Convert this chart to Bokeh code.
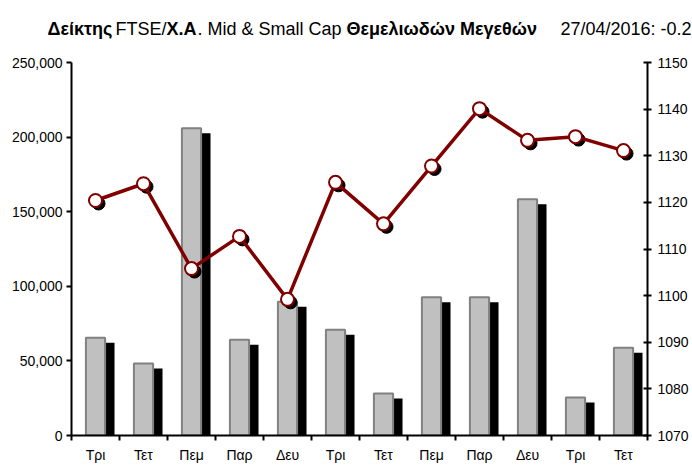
from bokeh.plotting import figure
from bokeh.layouts import column
from bokeh.models import (Range1d, LinearAxis, FixedTicker, NumeralTickFormatter,
                          ColumnDataSource)
from bokeh.core.properties import value
from bokeh.embed import file_html
from bokeh.resources import INLINE

days = ["Τρι", "Τετ", "Πεμ", "Παρ", "Δευ", "Τρι", "Τετ", "Πεμ", "Παρ", "Δευ", "Τρι", "Τετ"]
volume = [65500, 48300, 206000, 64100, 89600, 70800, 28100, 92700, 92700, 158400, 25500, 58800]
index_close = [1120.4, 1124.0, 1105.8, 1112.7, 1099.2, 1124.3, 1115.4, 1127.8, 1140.1, 1133.3, 1134.1, 1131.1]
left_ticks = [0, 50000, 100000, 150000, 200000, 250000]
right_ticks = [1070, 1080, 1090, 1100, 1110, 1120, 1130, 1140, 1150]

title_parts = ["Δείκτης", "FTSE/", "Χ.Α", ". Mid & Small Cap", "Θεμελιωδών Μεγεθών",
               "27/04/2016: -0.28%"]
title_bold = [True, False, True, False, True, False]
title_x = [47, 115, 166, 197, 346, 560]

n = len(days)
centers = [i + 0.5 for i in range(n)]
bounds = list(range(n + 1))

FONT = "'Liberation Sans'"
W = 692
TITLE_H = 40

# ---- title strip ----
t = figure(width=W, height=TITLE_H, output_backend="svg", toolbar_location=None,
           x_range=Range1d(0, W), y_range=Range1d(TITLE_H, 0),
           x_axis_type=None, y_axis_type=None, min_border=0, frame_align=False)
t.outline_line_color = None
t.xgrid.visible = False
t.ygrid.visible = False
for bold in (True, False):
    idx = [i for i, b in enumerate(title_bold) if b == bold]
    ts = ColumnDataSource(dict(x=[title_x[i] for i in idx], y=[28] * len(idx),
                               text=[title_parts[i] for i in idx]))
    t.text(x="x", y="y", text="text", source=ts, text_font=value(FONT),
           text_font_style="bold" if bold else "normal", text_font_size="18px",
           text_color="black", text_baseline="alphabetic", text_align="left")

# ---- main chart ----
p = figure(width=W, height=465 - TITLE_H, output_backend="svg", toolbar_location=None,
           x_range=Range1d(0, n), y_range=Range1d(0, 250000),
           min_border_left=71, min_border_right=45, min_border_top=62 - TITLE_H,
           min_border_bottom=30, frame_align=False)
p.outline_line_color = None
p.xgrid.visible = False
p.ygrid.visible = False
p.extra_y_ranges = {"idx": Range1d(1070, 1150)}

bx_sh = 0.146
by_sh = 3350
src = ColumnDataSource(dict(
    x=centers,
    xs=[c + bx_sh for c in centers],
    top=volume,
    tops=[v - by_sh for v in volume],
    y=index_close,
    lx=[c + 0.063 for c in centers],
    ly=[v - 0.64 for v in index_close],
))

p.vbar(x="xs", top="tops", bottom=-by_sh, width=0.5, source=src,
       fill_color="black", line_color=None)
p.vbar(x="x", top="top", bottom=0, width=0.40, source=src,
       fill_color="#C0C0C0", line_color="#808080", line_width=2)

p.scatter(x="lx", y="ly", source=src, y_range_name="idx", size=13,
          fill_color="black", line_color="black")
p.line(x="x", y="y", source=src, y_range_name="idx", line_color="#800000", line_width=3.5)
p.scatter(x="x", y="y", source=src, y_range_name="idx", size=13,
          fill_color="white", line_color="#800000", line_width=2)

xa = p.xaxis[0]
xa.ticker = FixedTicker(ticks=centers, minor_ticks=bounds)
xa.major_label_overrides = {c: d for c, d in zip(centers, days)}
xa.major_tick_out = 0
xa.major_tick_in = 0
xa.minor_tick_out = 5
xa.minor_tick_in = 0
xa.minor_tick_line_width = 2
xa.minor_tick_line_color = "black"
xa.axis_line_width = 2
xa.axis_line_color = "black"
xa.major_label_standoff = 6
xa.major_label_text_font = FONT
xa.major_label_text_font_size = "14px"
xa.major_label_text_color = "black"

ya = p.yaxis[0]
ya.ticker = FixedTicker(ticks=left_ticks)
ya.formatter = NumeralTickFormatter(format="0,0")
ya.major_tick_out = 5
ya.major_tick_in = 0
ya.minor_tick_out = 0
ya.minor_tick_in = 0
ya.major_tick_line_width = 2
ya.axis_line_width = 2
ya.axis_line_color = "black"
ya.major_tick_line_color = "black"
ya.major_label_standoff = 4
ya.major_label_text_font = FONT
ya.major_label_text_font_size = "14px"
ya.major_label_text_color = "black"

ra = LinearAxis(y_range_name="idx", ticker=FixedTicker(ticks=right_ticks))
ra.major_tick_out = 4
ra.major_tick_in = 4
ra.minor_tick_out = 0
ra.minor_tick_in = 0
ra.major_tick_line_width = 2
ra.axis_line_width = 2
ra.axis_line_color = "black"
ra.major_tick_line_color = "black"
ra.major_label_standoff = 6
ra.major_label_text_font = FONT
ra.major_label_text_font_size = "14px"
ra.major_label_text_color = "black"
p.add_layout(ra, "right")

layout = column(t, p, spacing=0)
open("out.html", "w").write(file_html(layout, INLINE))
